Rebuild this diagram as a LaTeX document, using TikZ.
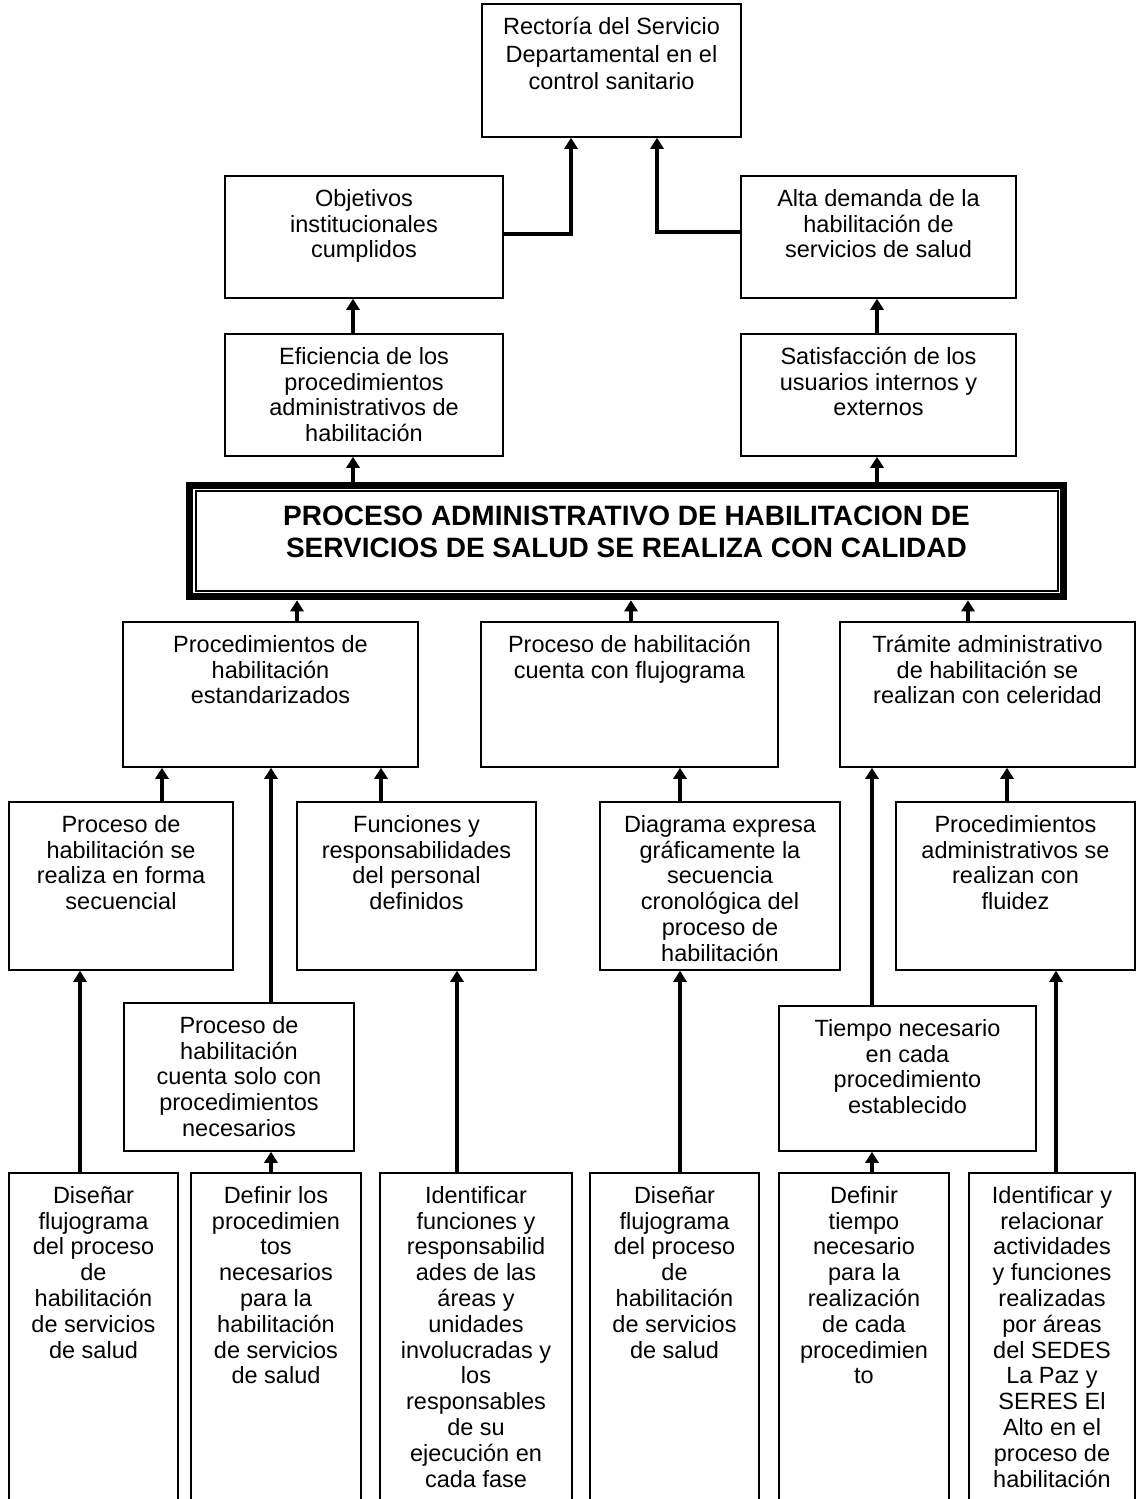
\documentclass[tikz,border=0pt]{standalone}
\usepackage{fontspec}
\setmainfont{Liberation Sans}
\usetikzlibrary{arrows.meta}

% box with its text set from the top: name, x1, y1, x2, y2, text
% (the strut fixes the first line's height, so its baseline lies 30pt below the top edge)
\newcommand\bloque[6]{%
  \node[box, minimum width={#4-#2}, minimum height={#5-#3}] (#1) at ({(#2+#4)/2},{(#3+#5)/2}) {};
  \node[lbl, anchor=north] (#1-t) at ({(#2+#4)/2},{#3+10}) {\rule{0pt}{20pt}#6};
}

\begin{document}
\begin{tikzpicture}[x=1pt, y=-1pt,
  box/.style={draw, line width=1.5pt, inner sep=0pt},
  lbl/.style={align=center, inner sep=0pt, font=\fontsize{23.5}{25.8}\selectfont},
  arr/.style={line width=3.2pt, -{Triangle[length=11pt,width=13pt]}},
  elbow/.style={line width=3.2pt, -{Triangle[length=11pt,width=13pt]}}]

\useasboundingbox (0,0) rectangle (1136,1499);
\fill[white] (0,0) rectangle (1136,1499);
\clip (0,0) rectangle (1136,1499);

% columns of the vertical connectors
\foreach \c in {80,162,271,297,353,381,457,571,631,657,680,872,877,968,1007,1056}
  \coordinate (k\c) at (\c,0);

% top levels
\bloque{rect}{482}{4}{741}{137}{Rectoría del Servicio\\[2pt]Departamental en el\\[2pt]control sanitario}
\bloque{obj}{225}{176}{503}{298}{Objetivos\\institucionales\\cumplidos}
\bloque{alta}{741}{176}{1016}{298}{Alta demanda de la\\habilitación de\\servicios de salud}
\bloque{efi}{225}{334}{503}{456}{Eficiencia de los\\procedimientos\\administrativos de\\habilitación}
\bloque{sat}{741}{334}{1016}{456}{Satisfacción de los\\usuarios internos y\\externos}

% central statement with heavy double frame
\node[draw, line width=7pt, inner sep=0pt, minimum width=874, minimum height=111] (main) at (626.5,541.25) {};
\node[draw, line width=2pt, inner sep=0pt, minimum width=862, minimum height=100] (main-in) at (626.5,541) {};
\node[anchor=north, align=center, inner sep=0pt, font=\bfseries\fontsize{28}{32}\selectfont] (main-t) at (626.5,501)
  {\rule{0pt}{24pt}PROCESO ADMINISTRATIVO DE HABILITACION DE\\SERVICIOS DE SALUD SE REALIZA CON CALIDAD};

% components
\bloque{a}{123}{622}{418}{767}{Procedimientos de\\habilitación\\estandarizados}
\bloque{b}{481}{622}{778}{767}{Proceso de habilitación\\cuenta con flujograma}
\bloque{c}{840}{622}{1135}{767}{Trámite administrativo\\de habilitación se\\realizan con celeridad}

\bloque{d}{9}{802}{233}{970}{Proceso de\\habilitación se\\realiza en forma\\secuencial}
\bloque{e}{297}{802}{536}{970}{Funciones y\\responsabilidades\\del personal\\definidos}
\bloque{f}{600}{802}{840}{970}{Diagrama expresa\\gráficamente la\\secuencia\\cronológica del\\proceso de\\habilitación}
\bloque{g}{896}{802}{1135}{970}{Procedimientos\\administrativos se\\realizan con\\fluidez}

\bloque{h}{124}{1003}{354}{1151}{Proceso de\\habilitación\\cuenta solo con\\procedimientos\\necesarios}
\bloque{i}{779}{1006}{1036}{1151}{Tiempo necesario\\en cada\\procedimiento\\establecido}

% activities (run past the lower edge)
\bloque{j1}{9}{1173}{178}{1540}{Diseñar\\flujograma\\del proceso\\de\\habilitación\\de servicios\\de salud}
\bloque{j2}{191}{1173}{361}{1540}{Definir los\\procedimien\\tos\\necesarios\\para la\\habilitación\\de servicios\\de salud}
\bloque{j3}{380}{1173}{572}{1540}{Identificar\\funciones y\\responsabilid\\ades de las\\áreas y\\unidades\\involucradas y\\los\\responsables\\de su\\ejecución en\\cada fase}
\bloque{j4}{590}{1173}{759}{1540}{Diseñar\\flujograma\\del proceso\\de\\habilitación\\de servicios\\de salud}
\bloque{j5}{779}{1173}{949}{1540}{Definir\\tiempo\\necesario\\para la\\realización\\de cada\\procedimien\\to}
\bloque{j6}{969}{1173}{1135}{1540}{Identificar y\\relacionar\\actividades\\y funciones\\realizadas\\por áreas\\del SEDES\\La Paz y\\SERES El\\Alto en el\\proceso de\\habilitación}

% connectors to the top box
\draw[elbow] ([yshift=3pt]obj.east) -| (k571 |- rect.south);
\draw[elbow] ([yshift=5pt]alta.west) -| (k657 |- rect.south);

% upper vertical arrows
\draw[arr] (efi.north -| k353) -- (obj.south -| k353);
\draw[arr] (main.north -| k353) -- (efi.south -| k353);
\draw[arr] (sat.north -| k877) -- (alta.south -| k877);
\draw[arr] (main.north -| k877) -- (sat.south -| k877);

\draw[arr] (a.north -| k297) -- (main.south -| k297);
\draw[arr] (b.north -| k631) -- (main.south -| k631);
\draw[arr] (c.north -| k968) -- (main.south -| k968);

\draw[arr] (d.north -| k162) -- (a.south -| k162);
\draw[arr] (h.north -| k271) -- (a.south -| k271);
\draw[arr] (e.north -| k381) -- (a.south -| k381);
\draw[arr] (f.north -| k680) -- (b.south -| k680);
\draw[arr] (i.north -| k872) -- (c.south -| k872);
\draw[arr] (g.north -| k1007) -- (c.south -| k1007);

% lower vertical arrows
\draw[arr] (j1.north -| k80) -- (d.south -| k80);
\draw[arr] (j2.north -| k271) -- (h.south -| k271);
\draw[arr] (j3.north -| k457) -- (e.south -| k457);
\draw[arr] (j4.north -| k680) -- (f.south -| k680);
\draw[arr] (j5.north -| k872) -- (i.south -| k872);
\draw[arr] (j6.north -| k1056) -- (g.south -| k1056);

\end{tikzpicture}
\end{document}
